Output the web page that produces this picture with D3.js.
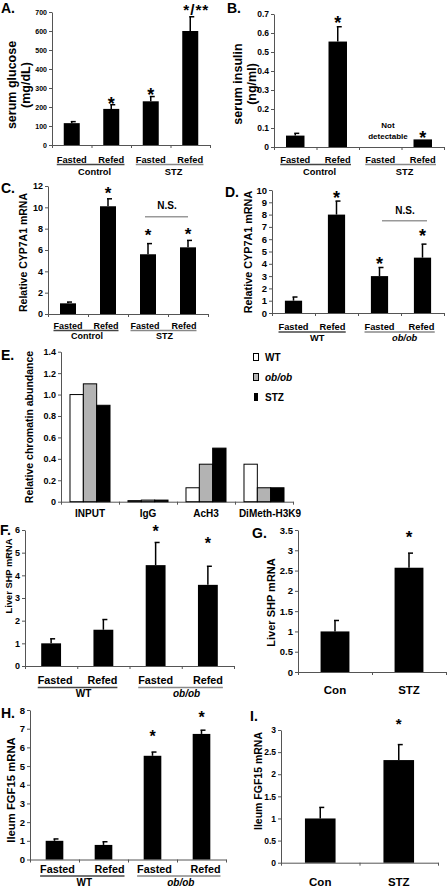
<!DOCTYPE html>
<html><head><meta charset="utf-8">
<script src="https://cdn.jsdelivr.net/npm/d3@7"></script>
<style>
body{margin:0;background:#fff;}
svg{display:block;}
</style></head><body>
<svg id="c" width="448" height="887"></svg>
<script>
// ---------- data ----------
const fastRefed = ["Fasted","Refed","Fasted","Refed"];
const groupsStz = ["Control","STZ"];
const groupsOb = ["WT","ob/ob"];
const conStz = ["Con","STZ"];

const glucose = [115,190,230,600];
const glucoseErr = [8,22,25,75];
const glucoseStars = ["","*","*","*/**"];
const glucoseTicks = [0,100,200,300,400,500,600,700];

const insulin = [0.06,0.555,0,0.04];
const insulinErr = [0.012,0.078,0,0];
const insulinStars = ["","*","","*"];
const insulinTicks = [0,0.1,0.2,0.3,0.4,0.5,0.6,0.7];

const cypStz = [1.0,10.1,5.6,6.25];
const cypStzErr = [0.12,0.7,1.0,0.65];
const cypStzStars = ["","*","*","*"];
const cypStzTicks = [0,2,4,6,8,10,12];

const cypOb = [1.0,8.0,3.0,4.5];
const cypObErr = [0.3,1.1,0.7,1.1];
const cypObStars = ["","*","*","*"];
const cypObTicks = [0,1,2,3,4,5,6,7,8,9,10];

const chipCats = ["INPUT","IgG","AcH3","DiMeth-H3K9"];
const chipSeries = ["WT","ob/ob","STZ"];
const chipWT = [1.0,0.01,0.13,0.35];
const chipOb = [1.1,0.015,0.35,0.13];
const chipStz = [0.9,0.015,0.5,0.13];
const chipTicks = [0,0.2,0.4,0.6,0.8,1.0,1.2,1.4];

const shpOb = [1.0,1.6,4.45,3.58];
const shpObErr = [0.2,0.45,1.0,0.82];
const shpObStars = ["","","*","*"];
const shpObTicks = [0,1,2,3,4,5,6];

const shpStz = [1.0,2.57];
const shpStzErr = [0.27,0.36];
const shpStzStars = ["","*"];
const shpStzTicks = [0,0.5,1,1.5,2,2.5,3,3.5];

const fgfOb = [1.0,0.78,5.55,6.72];
const fgfObErr = [0.1,0.17,0.2,0.2];
const fgfObStars = ["","","*","*"];
const fgfObTicks = [0,1,2,3,4,5,6,7,8];

const fgfStz = [1.0,2.32];
const fgfStzErr = [0.25,0.35];
const fgfStzStars = ["","*"];
const fgfStzTicks = [0,0.5,1,1.5,2,2.5,3];

// ---------- drawing ----------
const FONT = '"Liberation Sans", Arial, sans-serif';
const svg = d3.select("#c");
const f1 = d => d === 0 ? "0" : d3.format(".1f")(d);
const fg = d => d3.format("~g")(d);

function txt(g, t, x, y, fs, opt = {}) {
  return g.append("text").attr("x", x).attr("y", y).text(t)
    .attr("font-family", FONT).attr("font-weight", "bold")
    .attr("font-size", fs).attr("fill", "#000")
    .attr("text-anchor", opt.anchor || "start")
    .attr("font-style", opt.italic ? "italic" : "normal");
}

function ylabel(g, lines, yc, fs) {
  lines.forEach(l => {
    g.append("text").attr("transform", `translate(${l.x},${yc}) rotate(-90)`)
      .attr("dy", "0.36em").attr("text-anchor", "middle")
      .attr("font-family", FONT).attr("font-weight", "bold").attr("font-size", fs)
      .text(l.t);
  });
}

function axes(g, o, y, n) {
  const ya = g.append("g").attr("transform", `translate(${o.x0},0)`)
    .call(d3.axisLeft(y).tickValues(o.ticks).tickFormat(o.fmt).tickSize(3).tickSizeOuter(0));
  ya.attr("font-family", FONT).attr("font-size", o.tfs).attr("font-weight", "bold");
  ya.select(".domain").attr("stroke", "#555");
  ya.selectAll(".tick line").attr("stroke", "#555");
  ya.selectAll(".tick text").attr("fill", "#000").attr("x", -5);
  const xb = d3.scaleLinear().domain([0, n]).range([o.x0, o.x1]);
  const xa = g.append("g").attr("transform", `translate(0,${o.y0})`)
    .call(d3.axisBottom(xb).tickValues(d3.range(n + 1)).tickFormat("").tickSize(3).tickSizeOuter(0));
  xa.select(".domain").attr("stroke", "#555");
  xa.selectAll(".tick line").attr("stroke", "#555");
}

function panel(o) {
  const g = svg.append("g");
  const n = o.vals.length;
  const x = d3.scaleBand().domain(d3.range(n)).range([o.x0, o.x1])
    .paddingInner(o.pad).paddingOuter(o.pad / 2);
  const y = d3.scaleLinear().domain([0, o.max]).range([o.y0, o.yTop]);
  axes(g, o, y, n);
  const bw = x.bandwidth();
  g.selectAll("rect.bar").data(o.vals).join("rect").attr("class", "bar")
    .attr("x", (d, i) => x(i)).attr("width", bw)
    .attr("y", d => y(d)).attr("height", d => o.y0 - y(d))
    .attr("fill", "#000");
  // error bars
  o.vals.forEach((v, i) => {
    const e = o.errs[i];
    if (!e) return;
    const cx = x(i) + bw / 2;
    g.append("line").attr("x1", cx).attr("x2", cx).attr("y1", y(v)).attr("y2", y(v + e))
      .attr("stroke", "#000").attr("stroke-width", 1.5);
    g.append("line").attr("x1", cx - 1).attr("x2", cx + 4).attr("y1", y(v + e)).attr("y2", y(v + e))
      .attr("stroke", "#000").attr("stroke-width", 1.5);
  });
  // stars
  o.stars.forEach((s, i) => {
    if (!s) return;
    const cx = x(i) + bw / 2;
    const cy = y(o.vals[i] + (o.errs[i] || 0)) - o.gaps[i];
    const t = txt(g, s, cx + (s.length > 1 ? 6 : 0), cy + 0.57 * o.sfs, s.length > 1 ? o.sfs * 0.85 : o.sfs, { anchor: "middle" });
    if (s.length > 1) t.attr("letter-spacing", 1);
  });
  // category labels
  const labs = o.cats.map((c, i) => txt(g, c, x(i) + bw / 2 + (o.labDx ? o.labDx[i] : 0), o.labY, o.lfs, { anchor: "middle" }));
  if (o.groups) {
    o.groups.forEach((gr, k) => {
      const b1 = labs[2 * k].node().getBBox(), b2 = labs[2 * k + 1].node().getBBox();
      const l = b1.x, r = b2.x + b2.width;
      g.append("line").attr("x1", l).attr("x2", r).attr("y1", o.ulY).attr("y2", o.ulY)
        .attr("stroke", k === 0 ? "#444" : "#888").attr("stroke-width", 1.5);
      txt(g, gr, (l + r) / 2 + o.gdx, o.grY, o.gfs, { anchor: "middle", italic: gr === "ob/ob" });
    });
  }
  return { g, x, y };
}

// Panel letters
[["A.", 1, 13], ["B.", 227, 13], ["C.", 1, 193], ["D.", 225, 197], ["E.", 1, 360],
 ["F.", 0, 535], ["G.", 252, 538], ["H.", 1, 718], ["I.", 250, 721]]
  .forEach(([t, x, y]) => txt(svg, t, x, y, 14));

// A
panel({ vals: glucose, errs: glucoseErr, stars: glucoseStars, gaps: [0, 4.7, 5.9, 12],
  cats: fastRefed, groups: groupsStz, x0: 52, x1: 210, y0: 145, yTop: 12, max: 700, pad: 0.595,
  ticks: glucoseTicks, fmt: d3.format("d"), tfs: 7, sfs: 18, labY: 163, lfs: 9.3, ulY: 164.5, grY: 174.5, gfs: 9.3, gdx: 4 });
ylabel(svg, [{ t: "serum glucose", x: 11.5 }, { t: "(mg/dL)", x: 25 }], 85, 12.5);

// B
panel({ vals: insulin, errs: insulinErr, stars: insulinStars, gaps: [0, 8.4, 0, 6],
  cats: fastRefed, groups: groupsStz, x0: 274, x1: 444, y0: 147, yTop: 14, max: 0.7, pad: 0.565,
  ticks: insulinTicks, fmt: f1, tfs: 8.5, sfs: 18, labY: 163, lfs: 9.3, ulY: 164.5, grY: 174.5, gfs: 9.3, gdx: 4 });
ylabel(svg, [{ t: "serum insulin", x: 237.5 }, { t: "(ng/ml)", x: 251 }], 84, 12.5);
txt(svg, "Not", 388, 128, 8, { anchor: "middle" });
txt(svg, "detectable", 388, 139, 8, { anchor: "middle" });

// C
panel({ vals: cypStz, errs: cypStzErr, stars: cypStzStars, gaps: [0, 9.5, 12.6, 10.4],
  cats: fastRefed, groups: groupsStz, x0: 48, x1: 208, y0: 314, yTop: 186, max: 12, pad: 0.6,
  ticks: cypStzTicks, fmt: d3.format("d"), tfs: 9, sfs: 17, labY: 328.5, lfs: 9, labDx: [0, -2, -3, -4],
  ulY: 330.5, grY: 338.5, gfs: 9, gdx: 1 });
ylabel(svg, [{ t: "Relative CYP7A1 mRNA", x: 23 }], 252.5, 10.5);
svg.append("line").attr("x1", 145).attr("x2", 188).attr("y1", 216.7).attr("y2", 216.7).attr("stroke", "#999").attr("stroke-width", 1.5);
txt(svg, "N.S.", 167, 208.5, 10, { anchor: "middle" });

// D
panel({ vals: cypOb, errs: cypObErr, stars: cypObStars, gaps: [0, 7.5, 7.8, 12],
  cats: fastRefed, groups: groupsOb, x0: 272, x1: 444, y0: 313, yTop: 190, max: 10, pad: 0.6,
  ticks: cypObTicks, fmt: d3.format("d"), tfs: 9.5, sfs: 18, labY: 330, lfs: 9.3, labDx: [0, -4, 0, -1],
  ulY: 332, grY: 341, gfs: 9.3, gdx: 5 });
ylabel(svg, [{ t: "Relative CYP7A1 mRNA", x: 248 }], 252, 10.8);
svg.append("line").attr("x1", 382).attr("x2", 427).attr("y1", 220.7).attr("y2", 220.7).attr("stroke", "#999").attr("stroke-width", 1.5);
txt(svg, "N.S.", 405, 213.5, 10, { anchor: "middle" });

// E (grouped)
(function () {
  const g = svg.append("g");
  const o = { x0: 61, x1: 293, y0: 501.7, yTop: 351.7, max: 1.4, ticks: chipTicks, fmt: f1, tfs: 9 };
  const n = chipCats.length;
  const x = d3.scaleBand().domain(chipCats).range([o.x0, o.x1]).paddingInner(0.31).paddingOuter(0.155);
  const xs = d3.scaleBand().domain(chipSeries).range([0, x.bandwidth()]);
  const y = d3.scaleLinear().domain([0, o.max]).range([o.y0, o.yTop]);
  const fills = { "WT": "#fff", "ob/ob": "#b3b3b3", "STZ": "#000" };
  axes(g, o, y, n);
  const seriesVals = [chipWT, chipOb, chipStz];
  chipSeries.forEach((s, si) => {
    g.selectAll(null).data(seriesVals[si]).join("rect")
      .attr("x", (d, i) => x(chipCats[i]) + xs(s)).attr("width", xs.bandwidth())
      .attr("y", d => y(d)).attr("height", d => o.y0 - y(d))
      .attr("fill", fills[s]).attr("stroke", "#000").attr("stroke-width", 1);
  });
  chipCats.forEach((c, i) => txt(g, c, x(c) + x.bandwidth() / 2 + (i === 3 ? 6 : 0), 517, 10, { anchor: "middle" }));
  // legend
  chipSeries.forEach((s, i) => {
    const ly = 357 + i * 20;
    g.append("rect").attr("x", s === "STZ" ? 254.5 : 253.5).attr("y", ly - 3.5)
      .attr("width", s === "STZ" ? 3 : 5).attr("height", 7)
      .attr("fill", fills[s]).attr("stroke", "#000").attr("stroke-width", 1);
    txt(g, s, 265, ly + 3.5, 10, { italic: s === "ob/ob" });
  });
  ylabel(svg, [{ t: "Relative chromatin abundance", x: 29.5 }], 427, 10.5);
})();

// F
panel({ vals: shpOb, errs: shpObErr, stars: shpObStars, gaps: [0, 0, 15, 26],
  cats: fastRefed, groups: groupsOb, x0: 25, x1: 234, y0: 666, yTop: 530, max: 6, pad: 0.62,
  ticks: shpObTicks, fmt: d3.format("d"), tfs: 9, sfs: 16, labY: 684, lfs: 10.8, labDx: [4, -1, 0, 0],
  ulY: 687.5, grY: 697, gfs: 10, gdx: 6 });
ylabel(svg, [{ t: "Liver SHP mRNA", x: 8.5 }], 576, 9.3);

// G
panel({ vals: shpStz, errs: shpStzErr, stars: shpStzStars, gaps: [0, 19.7],
  cats: conStz, x0: 298, x1: 446, y0: 672, yTop: 530, max: 3.5, pad: 0.61,
  ticks: shpStzTicks, fmt: fg, tfs: 9.5, sfs: 17, labY: 694, lfs: 11.5 });
ylabel(svg, [{ t: "Liver SHP mRNA", x: 271.5 }], 602.5, 11);

// H
panel({ vals: fgfOb, errs: fgfObErr, stars: fgfObStars, gaps: [0, 0, 18.7, 16],
  cats: fastRefed, groups: groupsOb, x0: 30, x1: 226, y0: 859.5, yTop: 710, max: 8, pad: 0.64,
  ticks: fgfObTicks, fmt: d3.format("d"), tfs: 9.5, sfs: 16, labY: 873, lfs: 10.8, labDx: [3, 6, 2, 4],
  ulY: 876, grY: 886, gfs: 10, gdx: 2 });
ylabel(svg, [{ t: "Ileum FGF15 mRNA", x: 10.5 }], 790, 11.3);

// I
panel({ vals: fgfStz, errs: fgfStzErr, stars: fgfStzStars, gaps: [0, 24],
  cats: conStz, x0: 281, x1: 438, y0: 862.7, yTop: 730, max: 3, pad: 0.61,
  ticks: fgfStzTicks, fmt: fg, tfs: 8.5, sfs: 15, labY: 886, lfs: 11.5 });
ylabel(svg, [{ t: "Ileum FGF15 mRNA", x: 258 }], 781, 10.5);
</script>
</body></html>
